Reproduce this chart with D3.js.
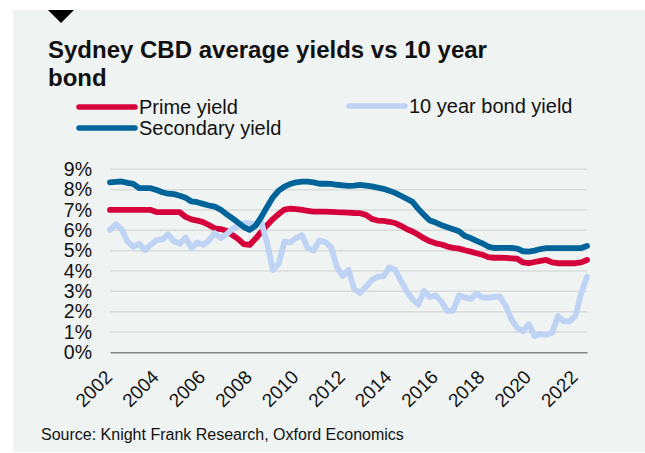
<!DOCTYPE html>
<html lang="en">
<head>
<meta charset="UTF-8">
<title>Sydney CBD yields</title>
<style>
  body { margin: 0; background: #ffffff; }
  svg text { font-family: "Liberation Sans", Arial, sans-serif; fill: #111; }
</style>
</head>
<body>
<script src="https://cdn.jsdelivr.net/npm/d3@7"></script>
<script>
// quarterly values, 2002 Q1 .. 2022 Q3
var startYear = 2002;
var primeYield = [7.00,7.00,7.00,7.00,7.00,7.00,7.00,7.00,6.90,6.89,6.89,6.89,6.89,6.66,6.54,6.48,6.40,6.26,6.10,6.06,
  5.98,5.78,5.58,5.32,5.28,5.58,5.92,6.25,6.55,6.80,7.02,7.06,7.04,7.00,6.96,6.92,6.92,6.92,6.91,6.89,
  6.88,6.87,6.85,6.84,6.76,6.56,6.48,6.46,6.42,6.36,6.22,6.06,5.94,5.78,5.60,5.46,5.36,5.30,5.20,5.14,
  5.10,5.02,4.95,4.87,4.80,4.68,4.65,4.65,4.64,4.62,4.60,4.42,4.38,4.44,4.50,4.54,4.42,4.38,4.38,4.38,
  4.38,4.42,4.54];
var bondYield = [6.02,6.30,6.05,5.45,5.18,5.34,5.02,5.28,5.52,5.55,5.80,5.46,5.34,5.64,5.12,5.40,5.28,5.50,5.86,5.62,
  5.80,6.05,6.22,6.36,6.34,6.28,6.40,5.40,4.05,4.35,5.45,5.40,5.62,5.76,5.12,5.00,5.50,5.42,5.18,4.20,
  3.75,4.05,3.10,2.92,3.22,3.55,3.72,3.74,4.18,4.05,3.52,3.00,2.60,2.35,3.02,2.72,2.80,2.48,2.02,2.05,
  2.80,2.70,2.62,2.88,2.70,2.68,2.72,2.74,2.30,1.62,1.20,1.02,1.38,0.80,0.90,0.86,0.96,1.78,1.52,1.52,
  1.78,2.90,3.72];
var secondaryYield = [8.36,8.38,8.40,8.33,8.28,8.08,8.07,8.07,7.98,7.87,7.80,7.78,7.70,7.60,7.42,7.38,7.30,7.22,7.16,7.02,
  6.80,6.60,6.38,6.16,6.02,6.22,6.65,7.15,7.62,7.95,8.15,8.28,8.36,8.39,8.39,8.36,8.29,8.30,8.28,8.24,
  8.21,8.18,8.20,8.23,8.20,8.16,8.10,8.04,7.95,7.84,7.70,7.55,7.40,7.05,6.75,6.48,6.38,6.25,6.15,6.05,
  5.95,5.72,5.62,5.48,5.36,5.20,5.13,5.14,5.14,5.13,5.10,4.97,4.95,5.00,5.08,5.12,5.12,5.12,5.12,5.12,
  5.12,5.13,5.23];
var yearTicks = [2002,2004,2006,2008,2010,2012,2014,2016,2018,2020,2022];
var pctTicks = [0,1,2,3,4,5,6,7,8,9];

var quarters = primeYield.map(function(d, i){ return startYear + i / 4; });

var series = [
  {name: "Prime yield", values: primeYield, color: "#d5003b"},
  {name: "10 year bond yield", values: bondYield, color: "#bfd3f5"},
  {name: "Secondary yield", values: secondaryYield, color: "#00639a"}
];

var width = 645, height = 453;
var svg = d3.select("body").append("svg").attr("width", width).attr("height", height);

svg.append("rect").attr("x", 13).attr("y", 10).attr("width", width - 13).attr("height", 442)
  .attr("fill", "#eff3f2");

svg.append("path").attr("d", "M48,10 L74,10 L61,23 Z").attr("fill", "#000");

var title = svg.append("text").attr("x", 48).attr("y", 58)
  .style("font-size", "24px").style("font-weight", "bold");
title.append("tspan").attr("x", 48).text("Sydney CBD average yields vs 10 year");
title.append("tspan").attr("x", 48).attr("dy", 28).text("bond");

// legend
var legendPos = [{x: 79, y: 107}, {x: 349, y: 106}, {x: 79, y: 128}];
var legend = svg.selectAll(".legend").data(series).enter().append("g").attr("class", "legend")
  .attr("transform", function(d, i){ return "translate(" + legendPos[i].x + "," + legendPos[i].y + ")"; });
legend.append("line").attr("x1", 0).attr("x2", 56).attr("y1", 0).attr("y2", 0)
  .attr("stroke", function(d){ return d.color; }).attr("stroke-width", 5.5).attr("stroke-linecap", "round");
legend.append("text").attr("x", 60).attr("y", 7).style("font-size", "20px").text(function(d){ return d.name; });

var x = d3.scaleLinear().domain([2002, 2022.5]).range([110, 587]);
var y = d3.scaleLinear().domain([0, 9]).range([352.3, 169.3]);

// grid
svg.append("g").selectAll("line").data(pctTicks.filter(function(d){ return d > 0; })).enter().append("line")
  .attr("x1", 110).attr("x2", 587)
  .attr("y1", function(d){ return y(d); }).attr("y2", function(d){ return y(d); })
  .attr("stroke", "#d9dcdb").attr("stroke-width", 1.5);

var yAxis = svg.append("g").attr("transform", "translate(110,0)")
  .call(d3.axisLeft(y).tickValues(pctTicks).tickFormat(function(d){ return d + "%"; }).tickSize(0).tickPadding(18));
yAxis.select(".domain").remove();
yAxis.selectAll("text").style("font-size", "19.5px").attr("fill", "#111");

var xAxis = svg.append("g").attr("transform", "translate(0," + y(0) + ")")
  .call(d3.axisBottom(x).tickValues(yearTicks).tickFormat(d3.format("d")).tickSize(0));
xAxis.select(".domain").attr("stroke", "#888").attr("stroke-width", 1.5);
xAxis.selectAll("text")
  .style("font-size", "19px").attr("fill", "#111")
  .attr("text-anchor", "end").attr("y", 0).attr("dy", 0)
  .attr("transform", "translate(3,26) rotate(-45)");

var line = d3.line().x(function(d, i){ return x(quarters[i]); }).y(function(d){ return y(d); });

svg.append("g").selectAll("path").data(series).enter().append("path")
  .attr("d", function(d){ return line(d.values); })
  .attr("fill", "none").attr("stroke", function(d){ return d.color; })
  .attr("stroke-width", 5.8).attr("stroke-linejoin", "round").attr("stroke-linecap", "round");

svg.append("text").attr("x", 41).attr("y", 440).style("font-size", "16px")
  .text("Source: Knight Frank Research, Oxford Economics");
</script>
</body>
</html>
